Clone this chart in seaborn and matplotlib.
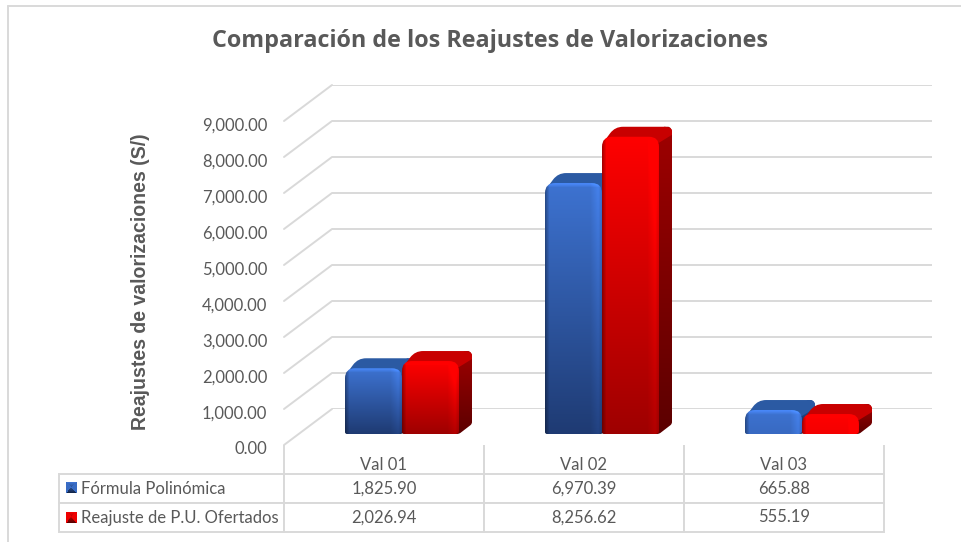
import numpy as np
import pandas as pd
import matplotlib
matplotlib.use('Agg')
import matplotlib.pyplot as plt
import seaborn as sns
from matplotlib.lines import Line2D
from matplotlib.patches import ConnectionPatch, PathPatch
from matplotlib.path import Path
from matplotlib.transforms import Affine2D, IdentityTransform, ScaledTranslation

# datos
categorias = ['Val 01', 'Val 02', 'Val 03']
formula = [1825.90, 6970.39, 665.88]
reajuste = [2026.94, 8256.62, 555.19]
series = ['Fórmula Polinómica', 'Reajuste de P.U. Ofertados']
ticks_y = [0, 1000, 2000, 3000, 4000, 5000, 6000, 7000, 8000, 9000]

W, H = 962, 542
GRIS = '#595959'
LINEA = '#D9D9D9'
FUENTE = ['Lato', 'DejaVu Sans']
DX, DY = 13, 10  # profundidad de las barras en px

sns.set_theme(style='white')
plt.rcParams['font.family'] = FUENTE

fig = plt.figure(figsize=(W / 100, H / 100), dpi=100, facecolor='white')


def caja(izq, arr, der, aba):
    # rectangulo en px de la imagen -> coordenadas de figura
    return [izq / W, 1 - aba / H, (der - izq) / W, (aba - arr) / H]


# pared del fondo con la grilla
pared = fig.add_axes(caja(332, 85, 932, 409), zorder=0)
pared.set_xlim(0, 1)
pared.set_ylim(0, 9000)
pared.set_xticks([])
pared.set_yticks(ticks_y)
pared.tick_params(left=False, labelleft=False)
pared.grid(axis='y', color=LINEA, lw=1.4)
sns.despine(ax=pared, left=True, bottom=True)

# plano frontal, solo para las etiquetas del eje y
frente = fig.add_axes(caja(284, 121, 884, 445), zorder=0, facecolor='none')
frente.set_xlim(0, 1)
frente.set_ylim(0, 9000)
frente.set_xticks([])
frente.set_yticks(ticks_y)
frente.set_yticklabels([f'{v:,.2f}' for v in ticks_y], fontsize=12, color=GRIS)
frente.tick_params(axis='y', length=0, pad=12)
sns.despine(ax=frente, left=True, bottom=True)
# bajar las etiquetas 3 px
baja = ScaledTranslation(0, -3 / 100, fig.dpi_scale_trans)
for etiqueta in frente.get_yticklabels():
    etiqueta.set_transform(etiqueta.get_transform() + baja)
frente.set_ylabel('Reajustes de valorizaciones (S/)', fontsize=14.05, fontweight='bold',
                  family=['Liberation Sans'], color=GRIS, labelpad=0)
frente.yaxis.set_label_coords(-0.2235, 0.505)

for v in ticks_y:
    fig.add_artist(ConnectionPatch((0, v), (0, v), coordsA=frente.get_yaxis_transform(),
                                   coordsB=pared.get_yaxis_transform(),
                                   color=LINEA, lw=1.4, zorder=0))

# barras
df = pd.DataFrame({
    'categoria': categorias * 2,
    'serie': [series[0]] * 3 + [series[1]] * 3,
    'valor': formula + reajuste,
})
ax = fig.add_axes(caja(302, 110, 902, 434), zorder=3, facecolor='none')
sns.barplot(data=df, x='categoria', y='valor', hue='serie', hue_order=series,
            palette=['#2F5DAE', '#E00000'], width=0.57, legend=False, ax=ax)
ax.set_xlim(-0.5, 2.5)
ax.set_ylim(0, 9000)
ax.set_xlabel('')
ax.set_ylabel('')
ax.set_xticks([])
ax.set_yticks([])
sns.despine(ax=ax, left=True, bottom=True)
ax.autoscale(False)


def poligono_redondo(puntos, radios):
    verts, codes = [], []
    n = len(puntos)
    for i in range(n):
        p = np.array(puntos[i], float)
        a = np.array(puntos[i - 1], float)
        b = np.array(puntos[(i + 1) % n], float)
        r = radios[i]
        ua = (a - p) / np.linalg.norm(a - p)
        ub = (b - p) / np.linalg.norm(b - p)
        r1 = min(r, np.linalg.norm(a - p) / 2)
        r2 = min(r, np.linalg.norm(b - p) / 2)
        verts += [p + ua * r1, p, p + ub * r2]
        codes += [Path.LINETO if i else Path.MOVETO, Path.CURVE3, Path.CURVE3]
    verts.append(verts[0])
    codes.append(Path.CLOSEPOLY)
    return Path(verts, codes)


def cara(path, extent, arr, z):
    parche = PathPatch(path, transform=IdentityTransform(), fc='none', ec='none')
    im = ax.imshow(arr, extent=extent, origin='upper', transform=IdentityTransform(),
                   aspect='auto', zorder=z, interpolation='bilinear')
    ax.add_patch(parche)
    im.set_clip_path(parche)


def degradado(w, h, c_arr, c_aba, frente_barra=False):
    w, h = max(int(w), 2), max(int(h), 2)
    t = np.linspace(0, 1, h)[:, None, None]
    arr = np.array(c_arr)[None, None, :] * (1 - t) + np.array(c_aba)[None, None, :] * t
    arr = np.repeat(arr, w, axis=1)
    if frente_barra:
        f = np.ones(w)
        f[:5] = np.linspace(0.68, 1, 5)
        f[-12:-4] = np.linspace(1, 1.12, 8)
        f[-4:] = np.linspace(1.12, 1.0, 4)
        arr = arr * f[None, :, None]
        g = np.ones(h)
        g[:5] = np.linspace(1.2, 1, 5)
        arr = arr * g[:, None, None]
    return np.clip(arr, 0, 1)


COLORES = [
    dict(c_arr=(0.24, 0.45, 0.82), c_aba=(0.12, 0.23, 0.45), top='#2B5AA3',
         l_arr=(0.16, 0.33, 0.62), l_aba=(0.07, 0.15, 0.30)),
    dict(c_arr=(1.0, 0.0, 0.0), c_aba=(0.62, 0.0, 0.0), top='#C80000',
         l_arr=(0.62, 0.0, 0.0), l_aba=(0.36, 0.0, 0.0)),
]

# las barras de seaborn dan la posicion; encima se pinta el volumen
rects = list(ax.patches)
for i, rect in enumerate(rects):
    col = COLORES[i // 3]
    rect.set_visible(False)
    (x0, y0), (x1, y1) = ax.transData.transform(
        [(rect.get_x(), rect.get_y()),
         (rect.get_x() + rect.get_width(), rect.get_y() + rect.get_height())])
    alto = y1 - y0
    z = 5 + (i // 3) * 10 + (i % 3)

    # las barras bajas casi no oscurecen hacia abajo
    k = min(1, alto / 60) ** 2
    c_aba = np.array(col['c_arr']) * (1 - k) + np.array(col['c_aba']) * k

    # lado
    p = poligono_redondo([(x1 - 4, y0), (x1, y0), (x1 + DX, y0 + DY), (x1 + DX, y1 + DY),
                          (x1 + DX - 8, y1 + DY), (x1 - 4, y1)], [0, 2, 2, 8, 0, 0])
    cara(p, (x1 - 4, x1 + DX, y0, y1 + DY), degradado(DX + 4, alto + DY, col['l_arr'], col['l_aba']), z)

    # tapa
    p = poligono_redondo([(x0 + 1, y1 - 6), (x0 + DX, y1 + DY), (x1 + DX, y1 + DY), (x1 + DX, y1 + DY - 8),
                          (x1, y1 - 6)], [6, 8, 9, 0, 0])
    ax.add_patch(PathPatch(p, transform=IdentityTransform(), fc=col['top'], ec='none', zorder=z + 0.1))

    # frente
    p = poligono_redondo([(x0, y0), (x1, y0), (x1, y1), (x0, y1)], [2, 3, 10, 10])
    cara(p, (x0, x1, y0, y1), degradado(x1 - x0, alto, col['c_arr'], c_aba, True), z + 0.2)

# tabla de datos
tabla_ax = fig.add_axes(caja(59, 445, 884, 532), zorder=1, facecolor='none')
tabla_ax.axis('off')
filas = [[''] + categorias,
         [series[0]] + [f'{v:,.2f}' for v in formula],
         [series[1]] + [f'{v:,.2f}' for v in reajuste]]
tabla = tabla_ax.table(cellText=filas, cellLoc='center', bbox=[0, 0, 1, 1],
                       colWidths=[225 / 825, 200 / 825, 200 / 825, 200 / 825])
tabla.auto_set_font_size(False)
for (fila, columna), celda in tabla.get_celld().items():
    celda.set_edgecolor(LINEA)
    celda.set_linewidth(1.4)
    celda.set_text_props(color=GRIS, fontsize=12)
    if fila == 0:
        celda.visible_edges = 'LR' if columna else ''
        # los rotulos van mas cerca de la tabla
        celda.get_text().set_transform(Affine2D().translate(0, -5))
    if columna == 0:
        celda.get_text().set_ha('left')
        celda.PAD = 0.098

# cuadritos de la leyenda
for n, (arr_y, col) in enumerate(zip([482, 512], COLORES)):
    sw = fig.add_axes(caja(65.5, arr_y, 76.5, arr_y + 11), zorder=2)
    sw.axis('off')
    xx, yy = np.meshgrid(np.linspace(-1, 1, 11), np.linspace(-1, 1, 11))
    t = np.clip(0.5 + 0.5 * yy * (np.abs(yy) > np.abs(xx)) - 0.4 * (np.abs(xx) >= np.abs(yy)), 0, 1)[:, :, None]
    sw.imshow(np.array(col['c_arr'])[None, None, :] * (1 - t) + np.array(col['l_aba'])[None, None, :] * t,
              aspect='auto')

# titulo y marco
fig.text(490 / W, 1 - 41 / H, 'Comparación de los Reajustes de Valorizaciones', ha='center', va='center',
         fontsize=16.8, fontweight='bold', color=GRIS, family=['Open Sans'])
fig.add_artist(Line2D([8 / W, 8 / W], [0, 1 - 6 / H], color=LINEA, lw=1.4))
fig.add_artist(Line2D([8 / W, 1], [1 - 6 / H, 1 - 6 / H], color=LINEA, lw=1.4))

plt.savefig('out.png', dpi=100)
